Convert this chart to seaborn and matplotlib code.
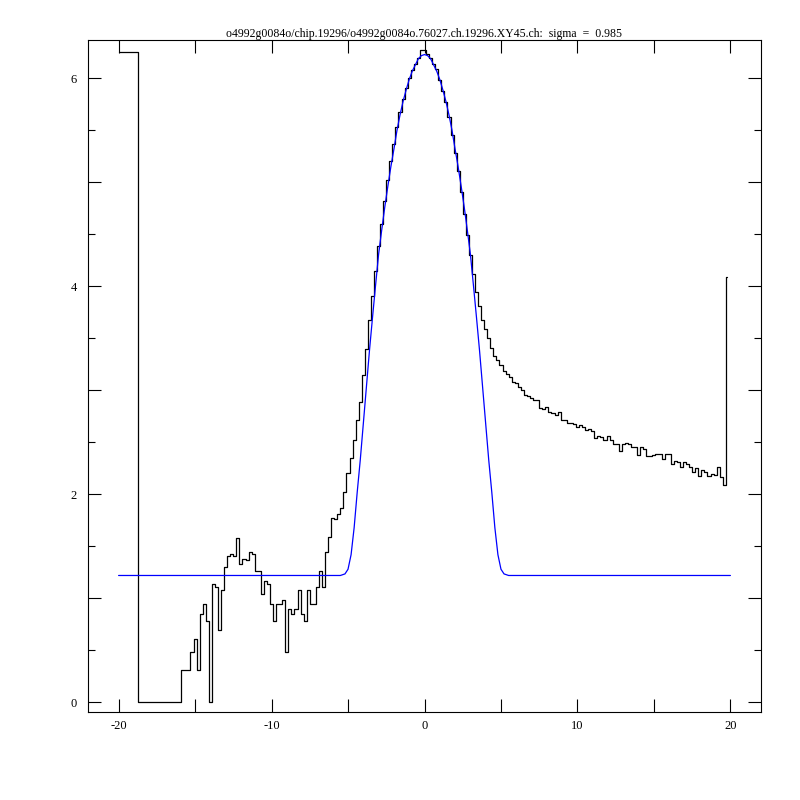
import numpy as np
import matplotlib
matplotlib.use("Agg")
import matplotlib.pyplot as plt
from matplotlib.ticker import MultipleLocator, FuncFormatter
import seaborn as sns

# ---------------- data ----------------
TITLE = "o4992g0084o/chip.19296/o4992g0084o.76027.ch.19296.XY45.ch:  sigma  =  0.985"

# first (wide) bin from -20 to -18.7
hist_first_edge = -20.0
hist_first_value = [6.25]
# bins of width 0.2 starting at -18.7
hist_empty = [0.0] * 14                                   # -18.7 .. -15.9
hist_left_wing = [0.31, 0.31, 0.31, 0.48, 0.61, 0.31, 0.85, 0.95, 0.78, 0.00,
                  1.14, 1.11, 0.70, 1.08, 1.30, 1.41, 1.43, 1.41, 1.58, 1.33,
                  1.38, 1.37, 1.45, 1.43, 1.26, 1.26, 1.04, 1.17, 1.14, 0.95,
                  0.78, 0.95, 0.95, 0.98, 0.48, 0.90, 0.85, 0.90, 1.08, 0.85,
                  0.78, 1.08, 0.95, 0.95, 1.11, 1.26, 1.11, 1.45, 1.59, 1.77,
                  1.76, 1.81, 1.87]                       # -15.9 .. -5.5
hist_core = [2.02, 2.21, 2.35, 2.52, 2.72, 2.89, 3.15, 3.40, 3.68, 3.91,
             4.15, 4.39, 4.60, 4.82, 5.02, 5.21, 5.37, 5.53, 5.68, 5.80,
             5.91, 6.00, 6.08, 6.14, 6.20, 6.27, 6.27, 6.24, 6.20, 6.14,
             6.09, 5.99, 5.88, 5.77, 5.63, 5.46, 5.28, 5.11, 4.91, 4.70,
             4.49, 4.30]                                  # -5.3 .. 2.9
hist_tail = [4.12, 3.95, 3.81, 3.68, 3.59, 3.50, 3.41, 3.33, 3.29, 3.24,
             3.19, 3.16, 3.13, 3.08, 3.07, 3.03, 3.00, 2.96, 2.95, 2.93,
             2.91, 2.91, 2.83, 2.82, 2.84, 2.79, 2.78, 2.76, 2.79, 2.72,
             2.72, 2.69, 2.69, 2.68, 2.65, 2.67, 2.65, 2.62, 2.63, 2.61,
             2.54, 2.56, 2.55, 2.52, 2.56, 2.52, 2.48, 2.48, 2.42, 2.48,
             2.49, 2.48, 2.46, 2.46, 2.38, 2.46, 2.44, 2.37, 2.37, 2.38,
             2.39, 2.39, 2.34, 2.39, 2.39, 2.29, 2.32, 2.31, 2.26, 2.31,
             2.29, 2.26, 2.22, 2.25, 2.18, 2.23, 2.22, 2.18, 2.20, 2.19,
             2.26, 2.17, 2.09]                            # 3.1 .. 19.5
hist_last_value = [4.09]                                  # 19.7 .. 19.78
hist_last_edge = 19.78

# fitted curve (blue)
fit_x = [-20.0, -5.5, -5.2, -5.0, -4.8, -4.6, -4.4, -4.2, -4.0, -3.8, -3.6,
         -3.4, -3.2, -3.0, -2.8, -2.6, -2.4, -2.2, -2.0, -1.8, -1.6, -1.4,
         -1.2, -1.0, -0.8, -0.6, -0.4, -0.2, 0.0, 0.2, 0.4, 0.6, 0.8, 1.0,
         1.2, 1.4, 1.6, 1.8, 2.0, 2.2, 2.4, 2.6, 2.8, 3.0, 3.2, 3.4, 3.6,
         3.8, 4.0, 4.2, 4.4, 4.6, 4.8, 5.0, 5.2, 5.5, 20.0]
fit_y = [1.22, 1.22, 1.235, 1.28, 1.42, 1.68, 2.02, 2.33, 2.68, 3.03, 3.38,
         3.70, 4.01, 4.31, 4.54, 4.76, 4.96, 5.15, 5.32, 5.50, 5.65, 5.78,
         5.89, 5.99, 6.07, 6.13, 6.19, 6.22, 6.23, 6.22, 6.19, 6.13, 6.07, 5.99,
         5.89, 5.78, 5.65, 5.50, 5.32, 5.15, 4.96, 4.76, 4.54, 4.31, 4.01, 3.70, 3.38,
         3.03, 2.68, 2.33, 2.02, 1.68, 1.42, 1.28, 1.235, 1.22, 1.22]

x_tick_labels = [-20, -10, 0, 10, 20]
y_tick_labels = [0, 2, 4, 6]

# ---------------- assemble ----------------
hist_values = np.array(hist_first_value + hist_empty + hist_left_wing +
                       hist_core + hist_tail + hist_last_value)
inner_edges = np.round(np.arange(-18.7, 19.71, 0.2), 1)
hist_edges = np.concatenate([[hist_first_edge], inner_edges, [hist_last_edge]])
assert len(hist_edges) == len(hist_values) + 1
step_x = hist_edges
step_y = np.append(hist_values, hist_values[-1])

# ---------------- plotting ----------------
sns.set_theme(style="white")
plt.rcParams["font.family"] = ["Liberation Serif", "DejaVu Serif"]
plt.rcParams["axes.unicode_minus"] = False

fig = plt.figure(figsize=(8, 8), dpi=100)
ax = fig.add_axes([0.11, 0.11, 0.84125, 0.84])

sns.lineplot(x=step_x, y=step_y, drawstyle="steps-post", color="black",
             linewidth=0.9, estimator=None, sort=False, ax=ax)
sns.lineplot(x=fit_x, y=fit_y, color="blue", linewidth=0.9,
             estimator=None, sort=False, ax=ax)

ax.set_xlim(-22, 22)
ax.set_ylim(-0.093, 6.37)
ax.set_xlabel("")
ax.set_ylabel("")

ax.xaxis.set_major_locator(MultipleLocator(5))
ax.xaxis.set_major_formatter(FuncFormatter(
    lambda v, p: f"{int(round(v))}" if int(round(v)) in x_tick_labels else ""))
ax.yaxis.set_major_locator(MultipleLocator(1))
ax.yaxis.set_minor_locator(MultipleLocator(0.5))
ax.yaxis.set_major_formatter(FuncFormatter(
    lambda v, p: f"{int(round(v))}" if int(round(v)) in y_tick_labels and abs(v - round(v)) < 1e-6 else ""))

ax.tick_params(which="both", direction="in", top=True, right=True,
               bottom=True, left=True, colors="black", width=0.8)
ax.tick_params(which="major", length=9.4)
ax.tick_params(which="minor", length=5)
ax.tick_params(axis="x", labelsize=9, pad=6)
ax.tick_params(axis="y", labelsize=9, pad=8)

for sp in ax.spines.values():
    sp.set_color("black")
    sp.set_linewidth(0.8)
ax.grid(False)

ax.set_title(TITLE, fontsize=8.5, pad=2, color="black")

fig.savefig("out.png", dpi=100, facecolor="white")
